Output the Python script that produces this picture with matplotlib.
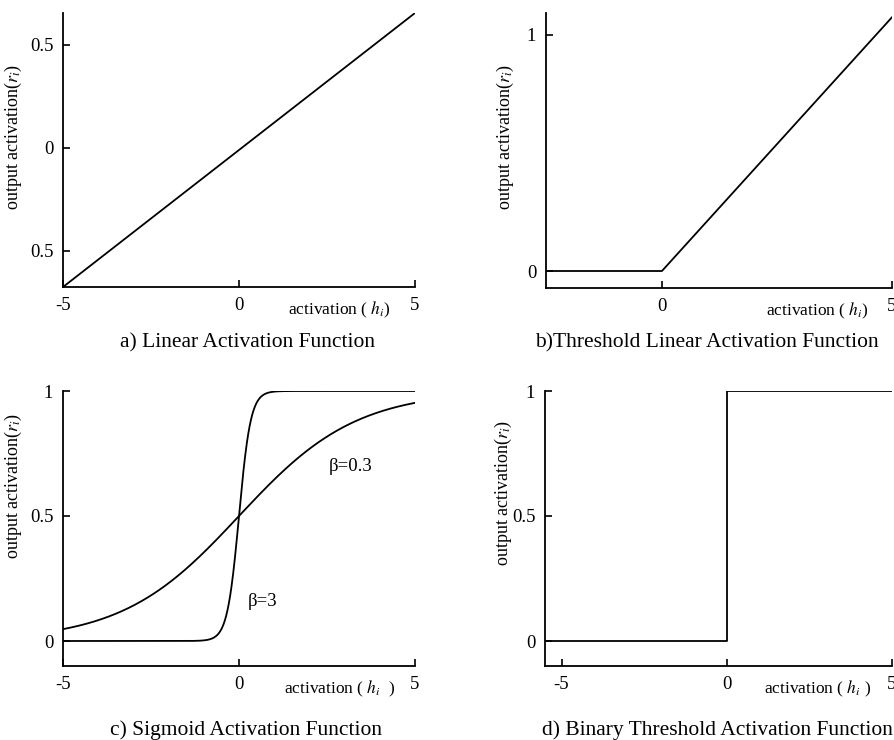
import numpy as np
import matplotlib
matplotlib.use("Agg")
import matplotlib.pyplot as plt

plt.rcParams['font.family'] = ['Liberation Serif', 'DejaVu Serif']
plt.rcParams['mathtext.fontset'] = 'stix'

# a) linear
lin_x = [-5, 5]
lin_y = [-0.675, 0.655]
# b) threshold linear
thr_x = [-2.52, 0, 5]
thr_y = [0, 0, 1.075]
# c) sigmoid, beta values read from the labels
betas = [3, 0.3]
beta_labels = ["β=3", "β=0.3"]
beta_label_xy = [(0.25, 0.16), (2.55, 0.70)]
# d) binary threshold
bin_x = [-5.5, 0, 0, 5]
bin_y = [0, 0, 1, 1]

titles = ["a) Linear Activation Function",
          "b)Threshold Linear Activation Function",
          "c) Sigmoid Activation Function",
          "d) Binary Threshold Activation Function"]
xlabels = [r"activation ( $h_i$)", r"activation ( $h_i$)",
           r"activation ( $h_i$  )", r"activation ( $h_i$ )"]
ylabel = r"output activation($r_i$)"

fig = plt.figure(figsize=(8.94, 7.4), dpi=100)
W, H = 894, 740


def make_ax(l, r, b, t):
    return fig.add_axes([l / W, 1 - b / H, (r - l) / W, (b - t) / H])


def style(ax, xlab, ylab_x, ylab_y):
    for s in ['top', 'right']:
        ax.spines[s].set_visible(False)
    for s in ['left', 'bottom']:
        ax.spines[s].set_linewidth(1.3)
    ax.tick_params(direction='in', length=5, width=1.2, labelsize=13.5, pad=7)
    ax.set_xlabel(xlab, fontsize=12.5)
    ax.xaxis.set_label_coords(0.785, -0.045)
    ax.set_ylabel(ylabel, fontsize=13)
    ax.yaxis.set_label_coords(ylab_x, ylab_y)


lw = 1.3

# a
ax = make_ax(63, 415, 287, 13)
ax.plot(lin_x, lin_y, color='black', lw=lw)
ax.set_xlim(-5, 5)
ax.set_ylim(-0.675, 0.655)
ax.set_xticks([-5, 0, 5])
ax.set_xticklabels(["-5", "0", "5"])
ax.set_yticks([-0.5, 0, 0.5])
ax.set_yticklabels(["0.5", "0", "0.5"])
style(ax, xlabels[0], -0.111, 0.547)

# b
ax = make_ax(546, 892, 288, 13)
ax.plot(thr_x, thr_y, color='black', lw=lw)
ax.set_xlim(-2.52, 5)
ax.set_ylim(-0.072, 1.093)
ax.set_xticks([0, 5])
ax.set_yticks([0, 1])
style(ax, xlabels[1], -0.086, 0.55)

# c
ax = make_ax(63, 415, 666, 391)
xs = np.linspace(-5, 5, 801)
for beta in betas:
    ax.plot(xs, 1 / (1 + np.exp(-2 * beta * xs)), color='black', lw=lw)
for lab, (tx, ty) in zip(beta_labels, beta_label_xy):
    ax.text(tx, ty, lab, fontsize=13.5, ha='left', va='center')
ax.set_xlim(-5, 5)
ax.set_ylim(-0.1, 1.0)
ax.set_xticks([-5, 0, 5])
ax.set_xticklabels(["-5", "0", "5"])
ax.set_yticks([0, 0.5, 1])
ax.set_yticklabels(["0", "0.5", "1"])
style(ax, xlabels[2], -0.111, 0.655)

# d
ax = make_ax(545, 892, 666, 391)
ax.plot(bin_x, bin_y, color='black', lw=lw)
ax.set_xlim(-5.5, 5)
ax.set_ylim(-0.1, 1.0)
ax.set_xticks([-5, 0, 5])
ax.set_xticklabels(["-5", "0", "5"])
ax.set_yticks([0, 0.5, 1])
ax.set_yticklabels(["0", "0.5", "1"])
style(ax, xlabels[3], -0.089, 0.63)

# panel captions
fig.text(120 / W, 1 - 343 / H, titles[0], fontsize=15.5, ha='left', va='center')
fig.text(535 / W, 1 - 343 / H, titles[1], fontsize=15.5, ha='left', va='center')
fig.text(110 / W, 1 - 730 / H, titles[2], fontsize=15.5, ha='left', va='center')
fig.text(542 / W, 1 - 730 / H, titles[3], fontsize=15.5, ha='left', va='center')

fig.savefig("out.png", dpi=100)
